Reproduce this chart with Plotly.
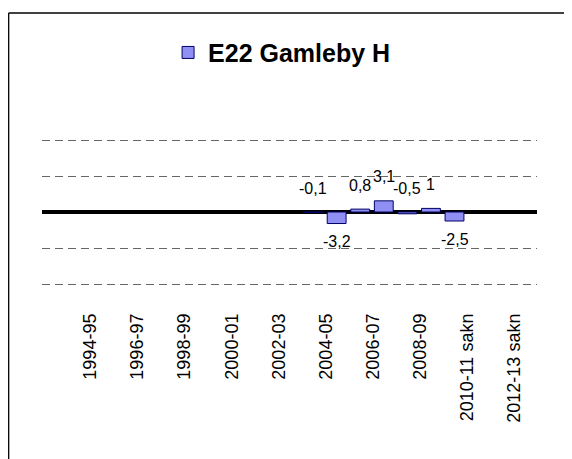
import plotly.graph_objects as go

# ---- data ----
series_name = "E22 Gamleby H"
# 21 annual categories (1992-93 .. 2012-13); only every second one is labelled
category_count = 21
label_index = [2, 4, 6, 8, 10, 12, 14, 16, 18, 20]
tick_labels = ["1994-95", "1996-97", "1998-99", "2000-01", "2002-03",
               "2004-05", "2006-07", "2008-09", "2010-11 sakn", "2012-13 sakn"]
values = [None, None, None, None, None, None, None, None, None, None, None,
          -0.1, -3.2, 0.8, 3.1, -0.5, 1.0, -2.5, None, None, None]

x_idx = list(range(category_count))

FONT = "Arial, Liberation Sans, sans-serif"

fig = go.Figure()
fig.add_trace(go.Bar(
    x=x_idx, y=values, name=series_name, showlegend=True,
    marker=dict(color="#9090f4", line=dict(color="#000066", width=1)),
    hoverinfo="skip",
))

def fmt(v):
    return f"{v:g}".replace(".", ",")

annotations = []
for xi, v in zip(x_idx, values):
    if v is None:
        continue
    if v >= -1:
        yy, shift = max(v, 0), 24
    else:
        yy, shift = v, -18
    annotations.append(dict(x=xi, y=yy, text=fmt(v), showarrow=False,
                            xref="x", yref="y", yanchor="middle", yshift=shift,
                            font=dict(family=FONT, size=16, color="black")))

# the page body has an 8px margin, so the figure is sized/offset to compensate
fig.update_layout(
    width=564, height=451,
    margin=dict(l=34, r=35, t=114, b=157, pad=0),
    paper_bgcolor="white", plot_bgcolor="white",
    bargap=0.2,
    font=dict(family=FONT, color="black"),
    showlegend=True,
    legend=dict(orientation="h", x=0.485, y=1.385, xanchor="center", yanchor="middle",
                font=dict(family=FONT, size=25, weight="bold", color="black"),
                bgcolor="rgba(0,0,0,0)"),
    annotations=annotations,
    xaxis=dict(range=[-0.5, category_count - 0.5],
               tickmode="array",
               tickvals=[i - 0.45 for i in label_index],
               ticktext=tick_labels,
               tickangle=-90, ticks="", showgrid=False, zeroline=False,
               showline=False, ticklabelstandoff=7,
               tickfont=dict(family=FONT, size=18, color="black")),
    yaxis=dict(range=[-25, 25], dtick=10, tick0=0, showticklabels=False,
               showgrid=True, gridcolor="#666666", gridwidth=1, griddash="8px,5px",
               zeroline=True, zerolinecolor="black", zerolinewidth=4,
               showline=False, ticks=""),
    shapes=[
        dict(type="line", xref="paper", yref="paper",
             x0=-0.0673, x1=-0.0673, y0=-1.0, y1=1.6056,
             line=dict(color="black", width=1.3)),
        dict(type="line", xref="paper", yref="paper",
             x0=-0.0673, x1=1.2, y0=1.6056, y1=1.6056,
             line=dict(color="black", width=1.3)),
    ],
)

fig.write_html("out.html")
